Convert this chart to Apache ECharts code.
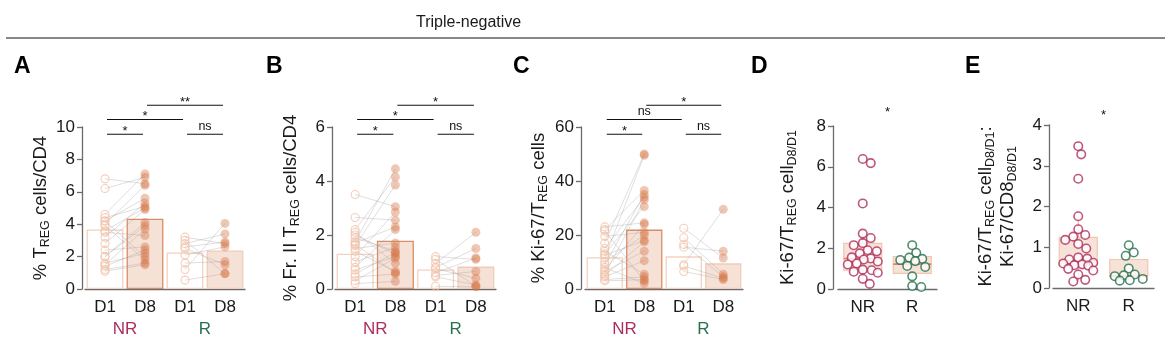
<!DOCTYPE html>
<html><head><meta charset="utf-8">
<script src="https://cdn.jsdelivr.net/npm/echarts@6/dist/echarts.min.js"></script>
<style>html,body{margin:0;padding:0;background:#fff}#c{width:1172px;height:342px}</style>
</head><body><div id="c"></div>
<script>
// ---------- text ----------
const titleText = 'Triple-negative';
const panelLetters = ['A', 'B', 'C', 'D', 'E'];
const dayCats = ['D1', 'D8', 'D1', 'D8'];
const groupCats = ['NR', 'R'];

// ---------- panel A : % TREG cells/CD4 ----------
const aBars = [3.67, 4.34, 2.25, 2.38];
const aNRD1 = [6.8, 6.2, 4.6, 4.4, 4.2, 4.2, 4.0, 3.9, 3.6, 3.5, 3.2, 2.8, 2.4, 2.0, 2.0, 1.6, 1.5, 1.4, 1.2, 1.1];
const aNRD8 = [6.5, 6.9, 7.1, 5.1, 5.6, 2.0, 6.4, 1.8, 5.0, 3.3, 5.3, 4.9, 2.6, 4.1, 3.9, 2.2, 3.7, 2.4, 1.6, 1.5];
const aRD1 = [3.2, 3.0, 2.8, 2.6, 2.5, 2.1, 1.6, 1.2, 0.55];
const aRD8 = [2.8, 0.95, 3.4, 2.9, 1.5, 2.6, 1.7, 4.05, 0.95];
const aSig = ['*', 'ns', '*', '**'];   // NR D1-D8, R D1-D8, D1 NR-R, D8 NR-R

// ---------- panel B : % Fr. II TREG cells/CD4 ----------
const bBars = [1.31, 1.79, 0.72, 0.83];
const bNRD1 = [3.5, 2.65, 2.2, 2.1, 2.0, 1.9, 1.75, 1.7, 1.65, 1.6, 1.5, 1.4, 1.2, 1.0, 0.8, 0.7, 0.55, 0.45, 0.3, 0.2];
const bNRD8 = [3.05, 2.55, 4.15, 0.95, 1.3, 1.4, 4.45, 2.3, 0.6, 3.85, 1.7, 0.65, 2.85, 1.55, 2.2, 1.2, 1.35, 0.55, 1.15, 0.28];
const bRD1 = [1.2, 1.1, 0.95, 0.8, 0.75, 0.6, 0.5, 0.45, 0.1];
const bRD8 = [1.1, 0.1, 2.1, 1.5, 0.4, 1.15, 0.65, 0.15, 0.08];
const bSig = ['*', 'ns', '*', '*'];

// ---------- panel C : % Ki-67/TREG cells ----------
const cBars = [11.8, 22.0, 12.1, 9.5];
const cNRD1 = [23, 22, 21.5, 19.5, 17, 15, 14, 13, 12.5, 11.5, 10, 9, 8, 7, 6.5, 5.5, 5, 4.5, 3.5, 3];
const cNRD8 = [24.5, 36.5, 3, 21, 50, 34, 5.5, 30.5, 18, 49.5, 20, 35, 2, 24, 14, 33, 17.5, 10.5, 4.5, 3.5];
const cRD1 = [22.5, 19, 16.5, 15.5, 9, 8.5, 6.5];
const cRD8 = [11.5, 5.5, 4.5, 14, 29.5, 4, 3.5];
const cSig = ['*', 'ns', 'ns', '*'];

// ---------- panel D : Ki-67/TREG cell D8/D1 ----------
const dNR = [6.38, 6.18, 4.2, 2.72, 2.5, 2.25, 2.15, 1.9, 1.85, 1.75, 1.55, 1.5, 1.45, 1.35, 1.25, 1.2, 0.95, 0.92, 0.85, 0.8, 0.5, 0.25];
const dR = [2.15, 1.78, 1.54, 1.48, 1.42, 1.37, 1.13, 1.08, 0.62, 0.15, 0.1];
const dBoxNR = [0.25, 0.93, 1.5, 2.24, 2.72];   // min, Q1, median, Q3, max
const dBoxR = [0.1, 0.77, 1.22, 1.59, 2.15];
const dSig = '*';

// ---------- panel E : Ki-67/TREG cell D8/D1 : Ki-67/CD8 D8/D1 ----------
const eNR = [3.48, 3.28, 2.68, 1.76, 1.44, 1.3, 1.26, 1.18, 1.08, 0.97, 0.75, 0.72, 0.7, 0.62, 0.6, 0.58, 0.56, 0.55, 0.47, 0.43, 0.33, 0.2, 0.16];
const eR = [1.05, 0.87, 0.79, 0.48, 0.33, 0.31, 0.29, 0.22, 0.19, 0.18];
const eBoxNR = [0.16, 0.56, 0.67, 1.24, 1.76];
const eBoxR = [0.18, 0.28, 0.30, 0.70, 1.05];
const eSig = '*';

// ---------- styling / layout ----------
const FONT = 'Liberation Sans, Arial, Helvetica, sans-serif';
const TXT = '#1a1a1a';
const AX = '#6b6b6b';
const NRC = '#ac2d5e';
const RC = '#26704f';
const subRich = { s: { fontSize: 12.5, verticalAlign: 'bottom', lineHeight: 13, fontFamily: FONT, color: TXT } };

const barPanels = [
  { left: 85, width: 160, top: 127, height: 162, off: 3, max: 10, step: 2, gap: 30,
    name: '% T{s|REG} cells/CD4', bars: aBars, nrd1: aNRD1, nrd8: aNRD8, rd1: aRD1, rd8: aRD8, sig: aSig },
  { left: 335, width: 161, top: 127, height: 162, off: 3, max: 6, step: 2, gap: 30,
    name: '% Fr. II T{s|REG} cells/CD4', bars: bBars, nrd1: bNRD1, nrd8: bNRD8, rd1: bRD1, rd8: bRD8, sig: bSig },
  { left: 585, width: 158, top: 127, height: 162, off: 4, max: 60, step: 20, gap: 31,
    name: '% Ki-67/T{s|REG} cells', bars: cBars, nrd1: cNRD1, nrd8: cNRD8, rd1: cRD1, rd8: cRD8, sig: cSig }
];
const boxPanels = [
  { left: 838, width: 99, top: 126, height: 163, off: 5, max: 8, step: 2, gap: 34,
    name: 'Ki-67/T{s|REG} cell{s|D8/D1}', nr: dNR, r: dR, boxNR: dBoxNR, boxR: dBoxR, sig: dSig, sigDy: -17 },
  { left: 1053, width: 101, top: 125, height: 163, off: 4, max: 4, step: 1, gap: 30,
    name: 'Ki-67/T{s|REG} cell{s|D8/D1}:\nKi-67/CD8{s|D8/D1}', nr: eNR, r: eR, boxNR: eBoxNR, boxR: eBoxR, sig: eSig, sigDy: -13 }
];

const grids = [], xAxes = [], yAxes = [], series = [];

function yAxisFor(p, gi) {
  return {
    gridIndex: gi, type: 'value', min: 0, max: p.max, interval: p.step, offset: p.off,
    axisLine: { show: true, lineStyle: { color: AX, width: 1.3 } },
    axisTick: { show: true, length: 5, lineStyle: { color: AX, width: 1.3 } },
    splitLine: { show: false },
    axisLabel: { color: TXT, fontSize: 17, fontFamily: FONT, margin: 7 },
    name: p.name, nameLocation: 'middle', nameRotate: 90, nameGap: p.gap,
    nameTextStyle: { color: TXT, fontSize: 18.5, fontFamily: FONT, lineHeight: 22, rich: subRich }
  };
}

barPanels.forEach((p, i) => {
  const gi = grids.length;
  grids.push({ left: p.left, top: p.top, width: p.width, height: p.height });
  const xi = xAxes.length;
  xAxes.push({
    gridIndex: gi, type: 'category', data: dayCats,
    axisLine: { lineStyle: { color: AX, width: 1.3 } },
    axisTick: { alignWithLabel: true, length: 5, lineStyle: { color: AX, width: 1.3 } },
    axisLabel: { color: TXT, fontSize: 17, fontFamily: FONT, margin: 10 }
  });
  xAxes.push({
    gridIndex: gi, type: 'category', data: groupCats, position: 'bottom', offset: 22,
    axisLine: { show: false }, axisTick: { show: false },
    axisLabel: { fontSize: 17, fontFamily: FONT, margin: 10, color: (v) => v === 'NR' ? NRC : RC }
  });
  const yi = yAxes.length;
  yAxes.push(yAxisFor(p, gi));

  series.push({
    type: 'bar', xAxisIndex: xi, yAxisIndex: yi, barWidth: '92%', z: 1,
    data: p.bars.map((v, k) => ({
      value: v,
      itemStyle: k % 2 === 0
        ? { color: '#ffffff', borderColor: '#f3d2c1', borderWidth: 1.3 }
        : { color: '#f6e1d7', borderColor: k === 1 ? '#d98d67' : '#f0cdbb', borderWidth: 1.3 }
    }))
  });
  const pairs = [];
  p.nrd1.forEach((v, k) => pairs.push({ coords: [[0, v], [1, p.nrd8[k]]] }));
  p.rd1.forEach((v, k) => pairs.push({ coords: [[2, v], [3, p.rd8[k]]] }));
  series.push({
    type: 'lines', coordinateSystem: 'cartesian2d', xAxisIndex: xi, yAxisIndex: yi, z: 2,
    lineStyle: { color: '#9a9a9a', width: 0.8, opacity: 0.4 }, data: pairs, silent: true
  });
  series.push({
    type: 'scatter', xAxisIndex: xi, yAxisIndex: yi, z: 3, symbolSize: 8,
    itemStyle: { color: 'rgba(255,255,255,0)', borderColor: '#f2c2a9', borderWidth: 1.1 },
    data: p.nrd1.map(v => [0, v]).concat(p.rd1.map(v => [2, v]))
  });
  series.push({
    type: 'scatter', xAxisIndex: xi, yAxisIndex: yi, z: 3, symbolSize: 9,
    itemStyle: { color: 'rgba(214,118,70,0.5)' },
    data: p.nrd8.map(v => [1, v]).concat(p.rd8.map(v => [3, v]))
  });
});

// compact swarm layout of points (pixel offsets only, limited half-width)
function swarm(vals, ppu, diam, half) {
  const placed = [];
  return vals.map(v => {
    const y = v * ppu;
    let best = 0, bestD = -1;
    for (let k = 0; k <= 2 * half; k++) {
      const cand = k === 0 ? 0 : (k % 2 ? 1 : -1) * Math.ceil(k / 2);
      let dmin = Infinity;
      placed.forEach(q => { dmin = Math.min(dmin, Math.hypot(q.x - cand, q.y - y)); });
      if (dmin >= diam) { best = cand; bestD = dmin; break; }
      if (dmin > bestD) { bestD = dmin; best = cand; }
    }
    placed.push({ x: best, y });
    return best;
  });
}

boxPanels.forEach((p) => {
  const gi = grids.length;
  grids.push({ left: p.left, top: p.top, width: p.width, height: p.height });
  const xi = xAxes.length;
  xAxes.push({
    gridIndex: gi, type: 'category', data: groupCats,
    axisLine: { lineStyle: { color: AX, width: 1.3 } },
    axisTick: { alignWithLabel: true, length: 5, lineStyle: { color: AX, width: 1.3 } },
    axisLabel: { color: TXT, fontSize: 17, fontFamily: FONT, margin: 10 }
  });
  const yi = yAxes.length;
  yAxes.push(yAxisFor(p, gi));

  series.push({
    type: 'custom', xAxisIndex: xi, yAxisIndex: yi, z: 1,
    data: [[0].concat(p.boxNR), [1].concat(p.boxR)],
    encode: { x: 0, y: [1, 2, 3, 4, 5] },
    renderItem: (params, api) => {
      const x = api.value(0);
      const pMin = api.coord([x, api.value(1)]);
      const pQ1 = api.coord([x, api.value(2)]);
      const pMed = api.coord([x, api.value(3)]);
      const pQ3 = api.coord([x, api.value(4)]);
      const pMax = api.coord([x, api.value(5)]);
      const w = 38, cx = pQ1[0];
      const wl = { stroke: '#ecb597', lineWidth: 1.2 };
      return { type: 'group', children: [
        { type: 'line', shape: { x1: cx, y1: pQ3[1], x2: cx, y2: pMax[1] }, style: wl },
        { type: 'line', shape: { x1: cx, y1: pQ1[1], x2: cx, y2: pMin[1] }, style: wl },
        { type: 'rect', shape: { x: cx - w / 2, y: pQ3[1], width: w, height: pQ1[1] - pQ3[1] },
          style: { fill: '#f7e2d8', stroke: '#f0c6b1', lineWidth: 1.2 } },
        { type: 'line', shape: { x1: cx - w / 2, y1: pMed[1], x2: cx + w / 2, y2: pMed[1] },
          style: { stroke: '#e08656', lineWidth: 1.6 } }
      ] };
    }
  });
  const ppu = p.height / p.max;
  const oNR = swarm(p.nr, ppu, 8.5, 15);
  const oR = swarm(p.r, ppu, 8.5, 15);
  series.push({
    type: 'scatter', xAxisIndex: xi, yAxisIndex: yi, z: 3, symbolSize: 8.5,
    itemStyle: { color: '#ffffff', borderColor: NRC, borderWidth: 1.6 },
    data: p.nr.map((v, k) => ({ value: [0, v], symbolOffset: [oNR[k], 0] }))
  });
  series.push({
    type: 'scatter', xAxisIndex: xi, yAxisIndex: yi, z: 3, symbolSize: 8.5,
    itemStyle: { color: '#ffffff', borderColor: RC, borderWidth: 1.6 },
    data: p.r.map((v, k) => ({ value: [1, v], symbolOffset: [oR[k], 0] }))
  });
});

const chart = echarts.init(document.getElementById('c'), null, { renderer: 'canvas' });
chart.setOption({
  backgroundColor: '#ffffff', animation: false,
  grid: grids, xAxis: xAxes, yAxis: yAxes, series: series
});

// annotations (title, rule, panel letters, significance brackets)
const gfx = [];
gfx.push({ type: 'text', x: 416, y: 23, style: { text: titleText, font: '16px ' + FONT, fill: TXT, textVerticalAlign: 'middle' } });
gfx.push({ type: 'line', shape: { x1: 6, y1: 38, x2: 1165, y2: 38 }, style: { stroke: '#111', lineWidth: 1.2 } });
const letterX = [14, 266, 513, 751, 965];
panelLetters.forEach((t, i) => gfx.push({ type: 'text', x: letterX[i], y: 67,
  style: { text: t, font: 'bold 23px ' + FONT, fill: '#000', textVerticalAlign: 'middle' } }));

function sigText(label, cx, lineY) {
  const y = label === 'ns' ? lineY - 7.5 : lineY - 3;
  return { type: 'text', x: cx, y: y, style: { text: label, font: (label === 'ns' ? '12.5px ' : '13px ') + FONT, fill: '#111', textAlign: 'center', textVerticalAlign: 'middle' } };
}
barPanels.forEach((p, i) => {
  const cx = k => chart.convertToPixel({ gridIndex: i }, [k, 0])[0];
  const spec = [[0, 1, 7.3], [2, 3, 7.3], [0, 2, -7.5], [1, 3, -21.7]];
  spec.forEach((s, j) => {
    const y = p.top + s[2];
    const x1 = cx(s[0]) + 2, x2 = cx(s[1]) - 2;
    gfx.push({ type: 'line', shape: { x1, y1: y, x2, y2: y }, style: { stroke: '#111', lineWidth: 1.1 } });
    gfx.push(sigText(p.sig[j], (x1 + x2) / 2, y));
  });
});
boxPanels.forEach((p, j) => {
  const gi = barPanels.length + j;
  const mid = (chart.convertToPixel({ gridIndex: gi }, [0, 0])[0] + chart.convertToPixel({ gridIndex: gi }, [1, 0])[0]) / 2;
  gfx.push({ type: 'text', x: mid, y: p.top + p.sigDy + 3, style: { text: p.sig, font: '13px ' + FONT, fill: '#111', textAlign: 'center', textVerticalAlign: 'middle' } });
});
chart.setOption({ graphic: gfx });
</script>
</body></html>
